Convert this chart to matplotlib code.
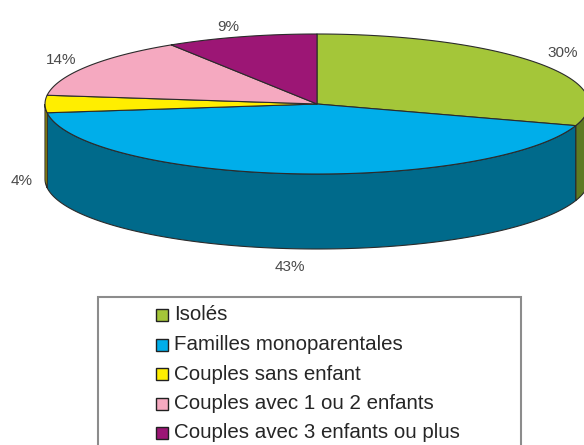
import numpy as np
import matplotlib
matplotlib.use("Agg")
import matplotlib.pyplot as plt
from matplotlib.patches import Polygon, Rectangle

# data
categories = ["Isolés", "Familles monoparentales", "Couples sans enfant",
              "Couples avec 1 ou 2 enfants", "Couples avec 3 enfants ou plus"]
values = [30, 43, 4, 14, 9]
pct_labels = ["30%", "43%", "4%", "14%", "9%"]
top_colors = ["#a4c639", "#00aeea", "#ffee00", "#f5a9c0", "#9c1675"]
side_colors = ["#5e7a22", "#006a8b", "#b5a800", "#b07a8c", "#6a0f50"]

# label positions in pixels
label_pos = [(563, 53), (290, 267), (22, 181), (61, 60), (228, 27)]

plt.rcParams['font.family'] = ['Liberation Sans', 'DejaVu Sans']

fig = plt.figure(figsize=(5.84, 4.45), dpi=100)
ax = fig.add_axes([0, 0, 1, 1])
ax.set_xlim(0, 584)
ax.set_ylim(445, 0)
ax.axis('off')

# pie geometry (pixels)
cx, cy = 317, 104
a, b = 272, 70
depth = 75
edge = "#2b2b2b"


def arc(t1, t2, n=200):
    t = np.radians(np.linspace(t1, t2, n))
    return cx + a * np.cos(t), cy - b * np.sin(t)


# angles: start at top, clockwise
total = float(sum(values))
bounds = [90.0]
for v in values:
    bounds.append(bounds[-1] - v / total * 360.0)

# side faces (front half: angles between -180 and 0)
for i in range(len(values)):
    hi, lo = bounds[i], bounds[i + 1]
    s_hi, s_lo = min(hi, 0.0), max(lo, -180.0)
    if s_hi <= s_lo:
        continue
    xs, ys = arc(s_hi, s_lo)
    pts = np.column_stack([np.concatenate([xs, xs[::-1]]),
                           np.concatenate([ys, ys[::-1] + depth])])
    ax.add_patch(Polygon(pts, closed=True, facecolor=side_colors[i],
                         edgecolor=edge, linewidth=0.8))

# top faces
for i in range(len(values)):
    xs, ys = arc(bounds[i], bounds[i + 1])
    pts = np.column_stack([np.concatenate([[cx], xs]),
                           np.concatenate([[cy], ys])])
    ax.add_patch(Polygon(pts, closed=True, facecolor=top_colors[i],
                         edgecolor=edge, linewidth=0.8, joinstyle='round'))

# percentage labels
for (x, y), lab in zip(label_pos, pct_labels):
    ax.text(x, y, lab, fontsize=11, color="#4a4a4a", ha='center', va='center')

# legend box
ax.add_patch(Rectangle((98, 297), 423, 160, facecolor='white',
                       edgecolor='#8c8c8c', linewidth=1.5))
for i, cat in enumerate(categories):
    yy = 315 + i * 29.5
    ax.add_patch(Rectangle((156, yy - 6), 12, 12, facecolor=top_colors[i],
                           edgecolor='#202020', linewidth=1.0))
    ax.text(174, yy, cat, fontsize=14.8, color="#262626", ha='left', va='center')

fig.savefig("out.png", dpi=100)
